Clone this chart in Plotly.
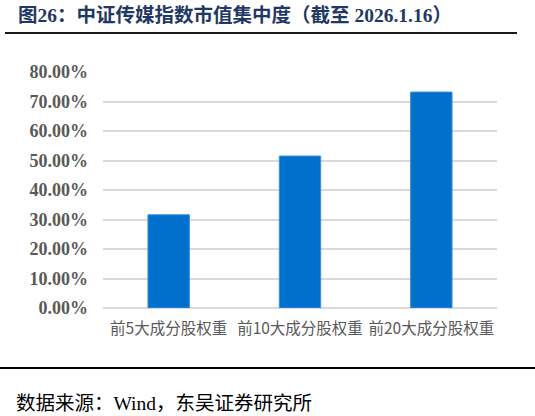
import plotly.graph_objects as go

categories = ['前5大成分股权重', '前10大成分股权重', '前20大成分股权重']
weights = [0.316, 0.515, 0.732]
y_ticks = [0, 0.1, 0.2, 0.3, 0.4, 0.5, 0.6, 0.7, 0.8]

W, H = 535, 416
L, R, T, B = 103, 38, 72, 108
pw, ph = W - L - R, H - T - B


def px_x(x):
    return (x - L) / pw


def px_y(y):
    return (H - B - y) / ph


fig = go.Figure(go.Bar(
    x=categories,
    y=weights,
    marker=dict(color='#0070CC', line=dict(color='#3A8EDB', width=1)),
    width=0.315,
))

fig.update_layout(
    width=W, height=H,
    margin=dict(l=L, r=R, t=T, b=B),
    paper_bgcolor='white',
    plot_bgcolor='white',
    showlegend=False,
    xaxis=dict(
        tickfont=dict(family='Noto Sans CJK SC', size=15.5, color='#595959'),
        showgrid=False,
        showline=False,
        ticks='',
        ticklabelstandoff=9,
    ),
    yaxis=dict(
        range=[0, 0.8],
        tickvals=y_ticks,
        tickformat='.2%',
        tickfont=dict(family='Liberation Serif', size=18, color='#595959', weight='bold'),
        showgrid=True,
        gridcolor='#D9D9D9',
        gridwidth=1.5,
        zeroline=True,
        zerolinecolor='#D9D9D9',
        zerolinewidth=1.5,
        ticklabelstandoff=14,
    ),
    shapes=[
        dict(type='line', xref='paper', yref='paper',
             x0=px_x(5), x1=px_x(517), y0=px_y(33), y1=px_y(33),
             line=dict(color='#1a1a1a', width=2)),
        dict(type='line', xref='paper', yref='paper',
             x0=px_x(0), x1=px_x(535), y0=px_y(368), y1=px_y(368),
             line=dict(color='#000000', width=2)),
    ],
    annotations=[
        dict(text='图26：中证传媒指数市值集中度（截至 2026.1.16）',
             xref='paper', yref='paper', x=px_x(16), y=px_y(15),
             xanchor='left', yanchor='middle', showarrow=False,
             font=dict(family='Liberation Serif, Noto Sans CJK SC', size=19.5,
                       color='#1F3864', weight='bold')),
        dict(text='数据来源：Wind，东吴证券研究所',
             xref='paper', yref='paper', x=px_x(14), y=px_y(403),
             xanchor='left', yanchor='middle', showarrow=False,
             font=dict(family='Liberation Serif, Noto Sans CJK SC', size=19.5,
                       color='#000000')),
    ],
)

# the page has an 8px body margin by default; drop it so the figure sits at 0,0
fig.write_html('out.html', config={'displayModeBar': False},
               post_script="document.body.style.margin='0';")
